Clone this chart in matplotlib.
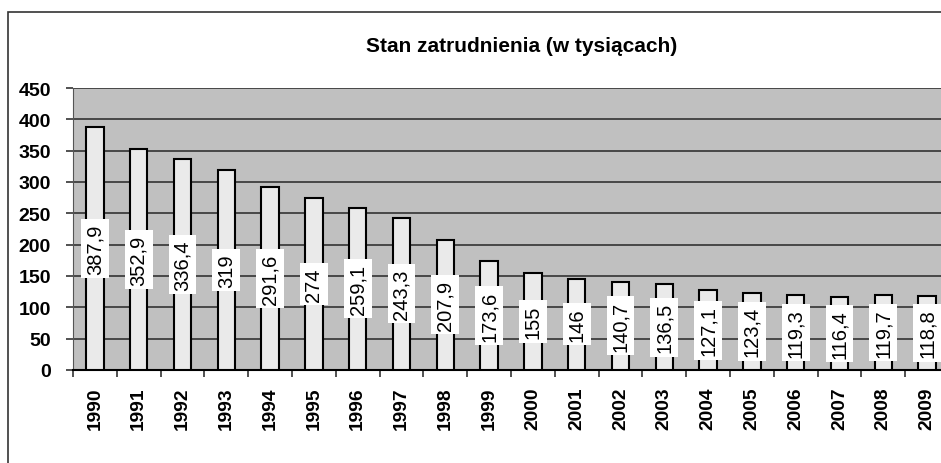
import numpy as np
import matplotlib.pyplot as plt
from matplotlib.patches import Rectangle

plt.rcParams['font.family'] = ['Liberation Sans', 'DejaVu Sans']

# Data
years = ['1990', '1991', '1992', '1993', '1994', '1995', '1996', '1997', '1998', '1999',
         '2000', '2001', '2002', '2003', '2004', '2005', '2006', '2007', '2008', '2009']
employment = [387.9, 352.9, 336.4, 319, 291.6, 274, 259.1, 243.3, 207.9, 173.6,
              155, 146, 140.7, 136.5, 127.1, 123.4, 119.3, 116.4, 119.7, 118.8]
yticks = [0, 50, 100, 150, 200, 250, 300, 350, 400, 450]

W, H = 941, 464
fig = plt.figure(figsize=(W / 100, H / 100), dpi=100)

# outer chart border (runs off the right and bottom edges)
fig.patches.append(Rectangle((7.5 / W, -0.05), 1.1, 1 - 13 / H + 0.05,
                             transform=fig.transFigure, fill=False,
                             edgecolor='#333333', linewidth=1.2))

ax = fig.add_axes([73 / W, 1 - 371 / H, (949 - 73) / W, (371 - 89) / H])
ax.set_facecolor('#C0C0C0')

x = np.arange(len(years))
bars = ax.bar(x, employment, width=0.4, color='#EAEAEA', edgecolor='black',
              linewidth=1.5, zorder=3)

labels = [f'{v:g}'.replace('.', ',') for v in employment]
ax.bar_label(bars, labels=labels, label_type='center', rotation=90, fontsize=14.5,
             bbox=dict(boxstyle='square,pad=0.22', facecolor='white', edgecolor='none'),
             zorder=4)

ax.set_xlim(-0.5, len(years) - 0.5)
ax.set_ylim(0, 450)
ax.set_yticks(yticks)
ax.set_yticklabels([str(t) for t in yticks], fontsize=14, fontweight='bold')
ax.grid(axis='y', color='#333333', linewidth=1.2, zorder=1)
ax.set_axisbelow(True)

# category labels centred, tick marks between categories
ax.set_xticks(x)
ax.set_xticklabels(years, rotation=90, fontsize=13.8, fontweight='bold')
ax.tick_params(axis='x', which='major', length=0, pad=12)
ax.set_xticks(np.arange(-0.5, len(years), 1), minor=True)
ax.tick_params(axis='x', which='minor', length=5, width=1.2, direction='out', color='#333333')
ax.tick_params(axis='y', length=5, width=1.2, direction='out', pad=11, color='#333333')

for side in ['top', 'right']:
    ax.spines[side].set_visible(False)
ax.spines['left'].set_color('#555555')
ax.spines['bottom'].set_color('black')
ax.spines['bottom'].set_linewidth(1.5)

fig.text(522 / W, 1 - 47 / H, 'Stan zatrudnienia (w tysiącach)', ha='center', va='center',
         fontsize=15, fontweight='bold')

fig.savefig('out.png', dpi=100)
